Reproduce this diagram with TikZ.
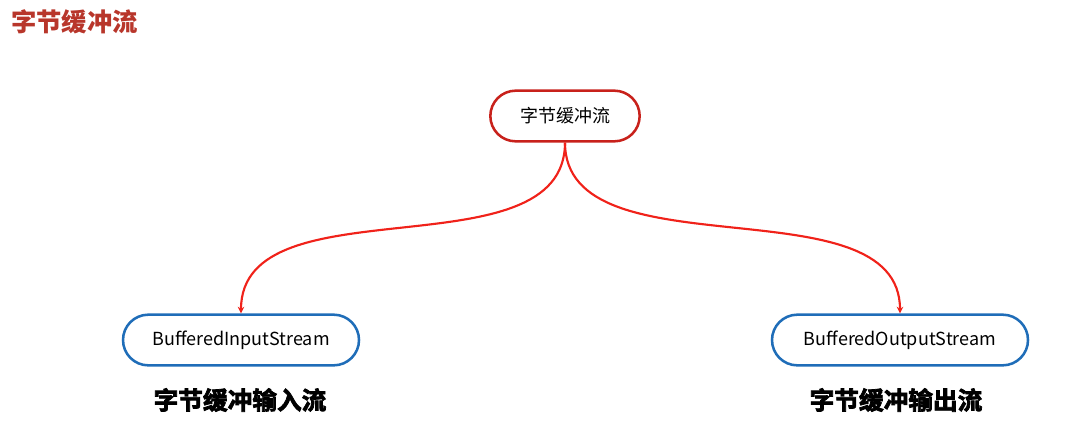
\documentclass[tikz,border=0pt]{standalone}
\usepackage{fontspec}
\setmainfont{Noto Sans CJK SC}
\newfontfamily\heavycjk[FakeBold=3]{Noto Sans CJK SC Bold}
\usetikzlibrary{arrows.meta}
\definecolor{titlered}{HTML}{B8362B}
\definecolor{boxred}{HTML}{C8211B}
\definecolor{boxblue}{HTML}{1F6DB8}
\definecolor{linkred}{HTML}{F0221A}

\begin{document}
\begin{tikzpicture}[x=0.75pt, y=-0.75pt,
	every node/.style={inner sep=0pt},
	pill/.style={draw, line width=1.9pt, rounded corners=19pt, minimum height=38pt, font=\fontsize{13.5}{15}\selectfont},
	link/.style={draw=linkred, line width=1.6pt, -{Stealth[length=5pt, width=5pt]}}]
	\useasboundingbox (0,0) rectangle (1066,444);
	\node[anchor=west, text=titlered, font=\bfseries\fontsize{19}{22}\selectfont] (title) at (11,22) {字节缓冲流};
	\node[pill, draw=boxred, minimum width=112pt] (root) at (565,116) {字节缓冲流};
	\node[pill, draw=boxblue, minimum width=177pt] (in) at (241,340) {BufferedInputStream};
	\node[pill, draw=boxblue, minimum width=192pt] (out) at (900,340) {BufferedOutputStream};
	\node[font=\heavycjk\fontsize{18.5}{20}\selectfont] (inlabel) at (240,400) {字节缓冲输入流};
	\node[font=\heavycjk\fontsize{18.5}{20}\selectfont] (outlabel) at (896,400) {字节缓冲输出流};
	% connectors
	\draw[link] (root.south) .. controls +(0,-100pt) and +(0,100pt) .. (in.north);
	\draw[link] (root.south) .. controls +(0,-100pt) and +(0,100pt) .. (out.north);
\end{tikzpicture}
\end{document}
